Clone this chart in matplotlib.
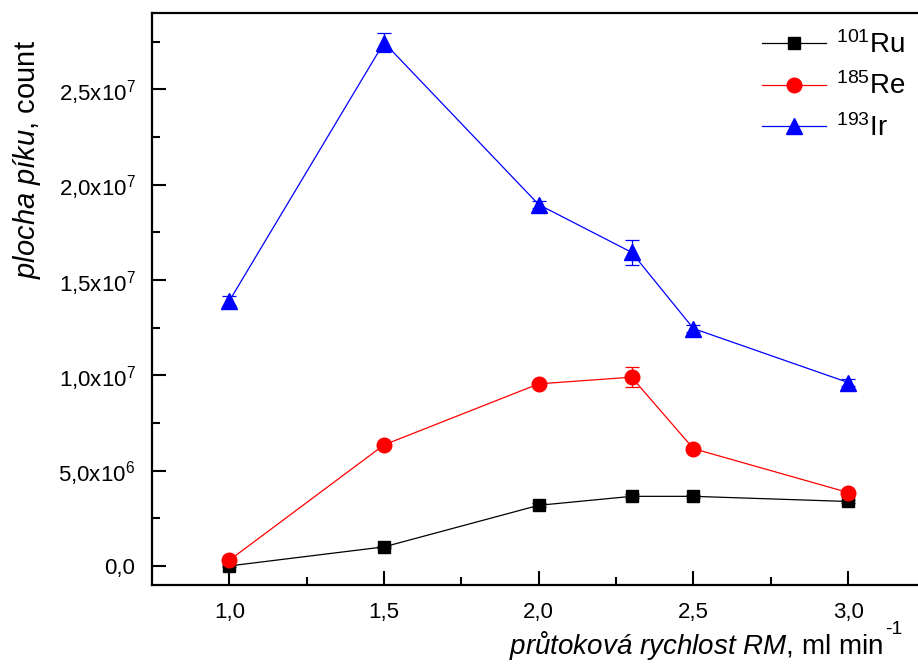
import numpy as np
import matplotlib
matplotlib.use("Agg")
import matplotlib.pyplot as plt
from matplotlib.lines import Line2D
from matplotlib.ticker import MultipleLocator, FixedLocator, FixedFormatter

plt.rcParams['font.family'] = ['Liberation Sans', 'DejaVu Sans']
plt.rcParams['mathtext.fontset'] = 'custom'
plt.rcParams['mathtext.rm'] = 'Liberation Sans'
plt.rcParams['mathtext.it'] = 'Liberation Sans:italic'

# flow rate of RM, ml/min
flow = [1.0, 1.5, 2.0, 2.3, 2.5, 3.0]

# peak areas (counts) and their errors
ru = [0.0, 1.0e6, 3.18e6, 3.65e6, 3.65e6, 3.38e6]
ru_err = [0.05e6, 0.05e6, 0.1e6, 0.1e6, 0.08e6, 0.08e6]
re = [0.3e6, 6.35e6, 9.55e6, 9.9e6, 6.15e6, 3.85e6]
re_err = [0.05e6, 0.1e6, 0.1e6, 0.52e6, 0.1e6, 0.1e6]
ir = [13.9e6, 27.45e6, 18.95e6, 16.45e6, 12.45e6, 9.62e6]
ir_err = [0.25e6, 0.5e6, 0.2e6, 0.65e6, 0.2e6, 0.2e6]

series = [
    ('$^{101}$Ru', ru, ru_err, 'black', 's', 9),
    ('$^{185}$Re', re, re_err, 'red', 'o', 10.5),
    ('$^{193}$Ir', ir, ir_err, 'blue', '^', 11),
]

ytick_vals = [0, 5e6, 1e7, 1.5e7, 2e7, 2.5e7]
ytick_labels = ['0,0', '5,0x10$^{6}$', '1,0x10$^{7}$', '1,5x10$^{7}$',
                '2,0x10$^{7}$', '2,5x10$^{7}$']
xtick_vals = [1.0, 1.5, 2.0, 2.5, 3.0]
xtick_labels = ['1,0', '1,5', '2,0', '2,5', '3,0']

fig = plt.figure(figsize=(9.18, 6.64), dpi=100)
ax = fig.add_axes([152/918, 79/664, (925.5-152)/918, 572/664])

handles = []
for name, vals, errs, col, mk, size in series:
    ax.errorbar(flow, vals, yerr=errs, color=col, marker=mk, ms=size,
                lw=0.9, capsize=5, elinewidth=0.9, capthick=0.9)
    handles.append(Line2D([], [], color=col, marker=mk, ms=size, lw=0.9,
                          label=name))

ax.set_xlim(0.75, 3.25)
ax.set_ylim(-1e6, 2.9e7)

ax.xaxis.set_major_locator(FixedLocator(xtick_vals))
ax.xaxis.set_major_formatter(FixedFormatter(xtick_labels))
ax.xaxis.set_minor_locator(FixedLocator([1.25, 1.75, 2.25, 2.75]))
ax.yaxis.set_major_locator(FixedLocator(ytick_vals))
ax.yaxis.set_major_formatter(FixedFormatter(ytick_labels))
ax.yaxis.set_minor_locator(MultipleLocator(2.5e6))

ax.tick_params(which='both', direction='in', width=1.5)
ax.tick_params(which='major', length=10, pad=12, labelsize=16)
ax.tick_params(which='minor', length=6)
ax.tick_params(axis='y', which='both', right=False)
ax.tick_params(axis='x', which='both', top=False)
for s in ax.spines.values():
    s.set_linewidth(1.6)

# legend placed in figure coordinates (the axes run past the right edge)
ax.legend(handles=handles, loc='upper left', bbox_to_anchor=(762/918, 1 - 31/664),
          bbox_transform=fig.transFigure, borderaxespad=0, borderpad=0,
          frameon=False, fontsize=20, handlelength=2.3, labelspacing=0.5,
          handletextpad=0.35)

fig.text(27/918, 1 - 160/664, r'$\mathit{plocha\ píku}$, count', rotation=90,
         fontsize=21, ha='center', va='center')
fig.text(883/918, 1 - 646/664, r'$\mathit{průtoková\ rychlost\ RM}$, ml min',
         fontsize=20, ha='right', va='center')
fig.text(885/918, 1 - 630/664, '-1', fontsize=14, ha='left', va='center')

fig.savefig('out.png', dpi=100)
